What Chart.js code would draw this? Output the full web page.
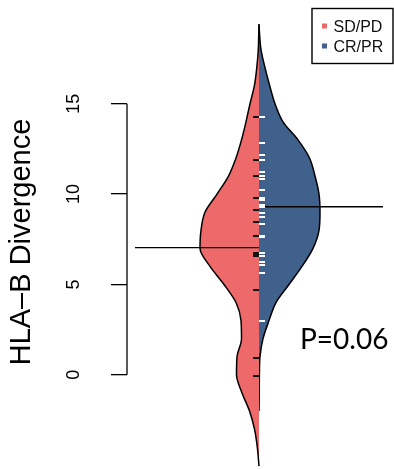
<!DOCTYPE html>
<html>
<head>
<meta charset="utf-8">
<script src="https://cdn.jsdelivr.net/npm/chart.js@4.4.0/dist/chart.umd.min.js"></script>
<style>
  html, body { margin: 0; padding: 0; background: #fff; }
  #wrap { width: 394px; height: 469px; }
</style>
</head>
<body>
<div id="wrap"><canvas id="beanChart"></canvas></div>
<script>
const groups = ['SD/PD', 'CR/PR'];
const groupColors = ['#EE6A6A', '#3F618B'];
const yTicks = [0, 5, 10, 15];
const pLabel = 'P=0.06';

// divergence values the bean outlines are sampled at
const divergenceGrid = [19.4, 19, 18, 17, 16, 15, 14, 13, 12, 11, 10, 9, 8, 7, 6, 5, 4, 3, 2, 1, 0, -1, -2, -3, -4, -5.05];
// scaled density (half width of each bean)
const densitySD = [0, 0.002, 0.007, 0.022, 0.046, 0.09, 0.13, 0.175, 0.23, 0.305, 0.42, 0.54, 0.58, 0.59, 0.49, 0.35, 0.23, 0.18, 0.175, 0.22, 0.225, 0.17, 0.095, 0.045, 0.017, 0];
const densityCR = [0, 0.004, 0.02, 0.06, 0.107, 0.16, 0.24, 0.39, 0.505, 0.56, 0.60, 0.61, 0.60, 0.54, 0.43, 0.30, 0.17, 0.10, 0.04, 0.01, 0.004, 0.002, 0, null, null, null];

// individual observations (bean lines)
const valuesSD = [14.27, 11.87, 10.98, 9.76, 9.12, 8.47, 7.68, 6.6, 6.7, 6.75, 4.67, 0.94, -0.04];
const valuesCR = [14.27, 12.83, 12.15, 11.86, 11.23, 10.99, 10.81, 10.22, 9.7, 9.8, 9.3, 9.4, 8.97, 8.75, 8.33, 7.6, 7.7, 6.6, 6.75, 6.25, 6.07, 5.66, 3.0];

// group means
const meanSD = 7.04;
const meanCR = 9.3;

const beanLineReach = 1.24;
const FONT = '"Liberation Sans", Arial, Helvetica, sans-serif';

// short half-width tick mark used as point style for the observations
function halfTick(color, side) {
    const c = document.createElement('canvas');
    c.width = 14;
    c.height = 2;
    const g = c.getContext('2d');
    g.fillStyle = color;
    g.fillRect(side < 0 ? 1 : 7, 0, 6, 2);
    return c;
}

function outline(dens, sign) {
    const pts = [];
    divergenceGrid.forEach((v, i) => {
        pts.push({ x: dens[i] === null ? null : sign * dens[i], y: v });
    });
    return pts;
}

const beanDecor = {
    id: 'beanDecor',
    afterDraw(chart) {
        const ctx = chart.ctx;
        const ys = chart.scales.y;
        ctx.save();

        // axis line only across the labelled range
        ctx.strokeStyle = '#000';
        ctx.lineWidth = 1.3;
        ctx.beginPath();
        ctx.moveTo(ys.right, ys.getPixelForValue(yTicks[0]));
        ctx.lineTo(ys.right, ys.getPixelForValue(yTicks[yTicks.length - 1]));
        ctx.stroke();

        // legend box, top right
        const bx = chart.width - 82, by = 8.5, bw = 81, bh = 55;
        ctx.lineWidth = 1.4;
        ctx.strokeRect(bx, by, bw, bh);
        ctx.font = '16px ' + FONT;
        ctx.textBaseline = 'alphabetic';
        groups.forEach((name, i) => {
            const cy = by + 17.5 + i * 20;
            ctx.fillStyle = groupColors[i];
            ctx.fillRect(bx + 10, cy - 2.5, 5, 5);
            ctx.fillStyle = '#111';
            ctx.fillText(name, bx + 21.5, cy + 6);
        });

        // test result
        ctx.font = '28px Lato, "Open Sans", sans-serif';
        ctx.fillStyle = '#000';
        ctx.fillText(pLabel, chart.chartArea.left + 173, 349);
        ctx.restore();
    }
};

const lineStyle = {
    showLine: true,
    pointRadius: 0,
    borderColor: '#000',
    borderWidth: 1.5,
    cubicInterpolationMode: 'monotone'
};

new Chart(document.getElementById('beanChart'), {
    type: 'line',
    data: {
        datasets: [
            {
                label: groups[0] + ' values',
                data: valuesSD.map(v => ({ x: 0, y: v })),
                showLine: false,
                pointStyle: halfTick('#111', -1),
                pointRadius: 7,
                order: 0
            },
            {
                label: groups[1] + ' values',
                data: valuesCR.map(v => ({ x: 0, y: v })),
                showLine: false,
                pointStyle: halfTick('#fff', 1),
                pointRadius: 7,
                order: 0
            },
            {
                label: groups[0] + ' mean',
                data: [{ x: -beanLineReach, y: meanSD }, { x: 0, y: meanSD }],
                borderColor: '#000',
                borderWidth: 1.3,
                pointRadius: 0,
                order: 1
            },
            {
                label: groups[1] + ' mean',
                data: [{ x: 0, y: meanCR }, { x: beanLineReach, y: meanCR }],
                borderColor: '#000',
                borderWidth: 1.3,
                pointRadius: 0,
                order: 1
            },
            Object.assign({
                label: groups[0],
                data: outline(densitySD, -1),
                backgroundColor: groupColors[0],
                fill: 'origin',
                order: 2
            }, lineStyle),
            Object.assign({
                label: groups[1],
                data: outline(densityCR, 1),
                backgroundColor: groupColors[1],
                fill: 'origin',
                spanGaps: false,
                order: 2
            }, lineStyle)
        ]
    },
    options: {
        indexAxis: 'y',
        responsive: true,
        maintainAspectRatio: false,
        animation: false,
        events: [],
        layout: { autoPadding: false, padding: { top: 17, right: 3, bottom: 2, left: 0 } },
        plugins: {
            legend: { display: false },
            tooltip: { enabled: false }
        },
        scales: {
            x: {
                type: 'linear',
                min: -1.32,
                max: 1.32,
                display: false
            },
            y: {
                type: 'linear',
                min: -5.1,
                max: 19.8,
                afterBuildTicks: (scale) => {
                    scale.ticks = yTicks.map(v => ({ value: v }));
                },
                afterFit: (scale) => {
                    scale.width = 127;
                    // rotated labels should not shrink the plot vertically
                    scale.paddingTop = 0;
                    scale.paddingBottom = 0;
                },
                border: { display: false },
                grid: {
                    drawOnChartArea: false,
                    drawTicks: true,
                    tickLength: 16,
                    color: '#000',
                    lineWidth: 1.3
                },
                ticks: {
                    color: '#000',
                    font: { family: FONT, size: 18 },
                    minRotation: 90,
                    maxRotation: 90,
                    crossAlign: 'center',
                    padding: 27
                },
                title: {
                    display: true,
                    text: 'HLA–B Divergence',
                    color: '#000',
                    font: { family: FONT, size: 29 },
                    padding: { top: 5, bottom: 0 }
                }
            }
        }
    },
    plugins: [beanDecor]
});
</script>
</body>
</html>
